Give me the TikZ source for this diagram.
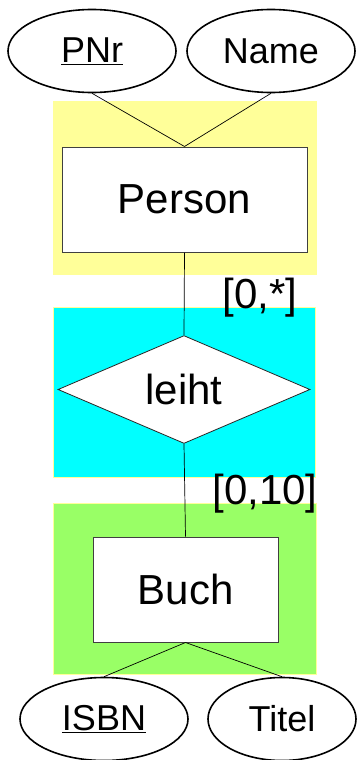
\documentclass[tikz,border=0pt]{standalone}
\usepackage{fontspec}
\setmainfont{Liberation Sans}
\usetikzlibrary{shapes.geometric}
\definecolor{entyellow}{HTML}{FFFF99}
\definecolor{relcyan}{HTML}{00FFFF}
\definecolor{entgreen}{HTML}{99FF66}
\tikzset{
  panel/.style={draw=entyellow, line width=1pt},
  entity/.style={draw=black!75, fill=white, line width=1pt, inner sep=0pt,
                 font=\fontsize{42}{50}\selectfont},
  relation/.style={diamond, draw=black!85, fill=white, line width=0.8pt, inner sep=0pt,
                   minimum width=252pt, minimum height=105pt,
                   font=\fontsize{42}{50}\selectfont},
  attr/.style={ellipse, draw=black, fill=white, line width=1.6pt, inner sep=0pt,
               minimum height=83pt, font=\fontsize{36}{42}\selectfont},
  card/.style={inner sep=0pt, font=\fontsize{42}{50}\selectfont},
  link/.style={draw=black, line width=0.7pt}
}
\begin{document}
\begin{tikzpicture}[x=1pt,y=-1pt]
  \useasboundingbox (0,0) rectangle (357,760);
  \fill[white] (0,0) rectangle (357,760);

  % coloured panels behind the three elements
  \draw[panel, fill=entyellow] (53,101) rectangle (316,274);
  \draw[panel, fill=relcyan]   (53,307) rectangle (315,477);
  \draw[panel, fill=entgreen]  (53,503) rectangle (316,674);

  % entities and relationship
  \node[entity, minimum width=245pt, minimum height=105pt] (person) at (184.5,199.5) {Person};
  \node[relation] (leiht) at (184,389.5) {leiht};
  \node[entity, minimum width=185pt, minimum height=105pt] (buch) at (185.5,589.5) {Buch};

  % attributes
  \node[attr, minimum width=168pt] (pnr)  at (92,51)  {\underline{PNr}};
  \node[attr, minimum width=168pt] (name) at (271,51) {Name};
  \node[attr, minimum width=168pt] (isbn) at (104,719) {\underline{ISBN}};
  \node[attr, minimum width=148pt] (titel) at (282,719) {Titel};

  % connectors
  \draw[link] (pnr.south) -- (person.north);
  \draw[link] (name.south) -- (person.north);
  \draw[link] (person.south) -- (leiht.north);
  \draw[link] (leiht.south) -- (buch.north);
  \draw[link] (buch.south) -- (isbn.north);
  \draw[link] (buch.south) -- (titel.north);

  % cardinalities
  \node[card] (cardp) at (260,298) {[0,*]};
  \node[card] (cardb) at (265,494) {[0,10]};
\end{tikzpicture}
\end{document}
